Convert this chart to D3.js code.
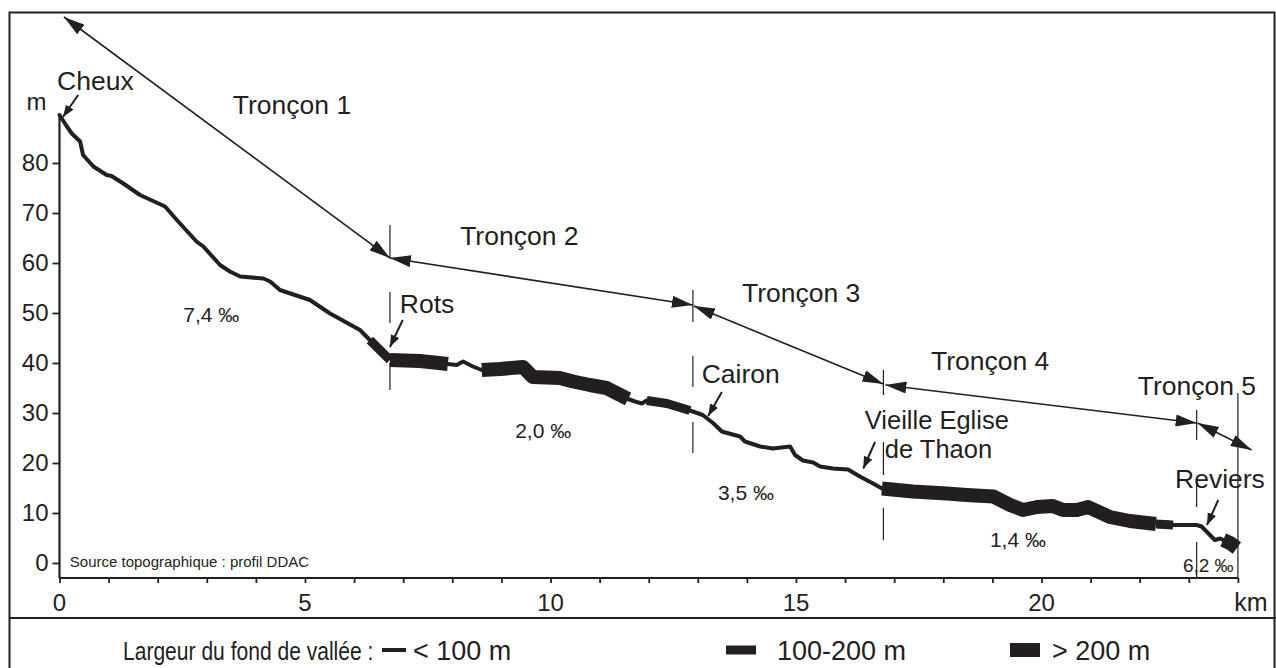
<!DOCTYPE html>
<html><head><meta charset="utf-8">
<script src="https://cdn.jsdelivr.net/npm/d3@7"></script>
<style>
body{margin:0;background:#fff}
svg{display:block}
text{font-family:"Liberation Sans",Arial,Helvetica,sans-serif;fill:#231f20}
</style>
</head><body>
<svg id="chart" width="1276" height="668"></svg>
<script>
// ---------- DATA ----------
const profileKm = [0,0.15,0.25,0.42,0.48,0.69,0.96,1.06,1.30,1.64,1.84,2.15,2.39,2.79,2.93,3.27,3.47,3.68,4.15,4.29,4.49,5.10,5.51,6.12,6.32,
  6.73,7.34,7.91,8.09,8.22,8.42,8.60,8.97,9.44,9.64,10.19,10.46,10.80,11.14,11.42,11.58,11.72,11.86,11.96,12.37,12.84,
  13.10,13.31,13.49,13.86,13.96,14.27,14.53,14.88,14.98,15.14,15.35,15.49,15.75,16.06,16.30,16.57,16.75,
  17.38,18.07,18.48,19.02,19.36,19.62,19.91,20.23,20.44,20.72,20.95,21.39,21.80,22.33,22.68,23.16,23.26,23.43,23.53,23.64,23.70,23.84,23.98];
const profileElev = [89.6,87.3,85.9,84.3,81.6,79.3,77.6,77.4,75.9,73.6,72.7,71.3,68.6,64.3,63.3,59.6,58.3,57.3,56.9,56.3,54.6,52.6,49.9,46.6,44.6,
  40.6,40.4,39.8,39.6,40.3,39.3,38.6,38.8,39.2,37.2,37.0,36.3,35.6,35.0,33.6,32.8,32.3,31.9,32.5,31.9,30.5,
  29.6,28.0,26.3,25.3,24.3,23.3,22.9,23.3,21.6,20.5,20.1,19.3,18.9,18.7,17.3,15.9,14.9,
  14.3,13.9,13.6,13.3,11.6,10.6,11.2,11.4,10.6,10.6,11.2,9.2,8.4,7.8,7.6,7.6,7.3,5.6,4.6,4.9,4.6,4.0,3.0];

// valley-floor width class along the profile
const segStartKm = [0,6.32,6.73,7.91,8.60,11.58,11.96,12.84,16.75,22.33,22.68,23.70];
const segEndKm   = [6.32,6.73,7.91,8.60,11.58,11.96,12.84,16.75,22.33,22.68,23.70,23.98];
const segClass   = ["<100","100-200",">200","<100",">200","<100","100-200","<100",">200","100-200","<100",">200"];

const widthClasses = ["<100","100-200",">200"];
const legendTitle = "Largeur du fond de vallée :";
const legendLabels = ["< 100 m","100-200 m","> 200 m"];

const yTickValues = [0,10,20,30,40,50,60,70,80];
const xMinorTicks = [0,1,2,3,4,5,6,7,8,9,10,11,12,13,14,15,16,17,18,19,20,21,22,23,24];
const xLabelTicks = [0,5,10,15,20];

const tronconNames = ["Tronçon 1","Tronçon 2","Tronçon 3","Tronçon 4","Tronçon 5"];
const tronconBoundKm = [0,6.73,12.9,16.78,23.16,24];
const slopeLabels = ["7,4 ‰","2,0 ‰","3,5 ‰","1,4 ‰","6,2 ‰"];
const placeNames = ["Cheux","Rots","Cairon","Vieille Eglise","de Thaon","Reviers"];

// ---------- LAYOUT ----------
const svg = d3.select("#chart");
const ink = "#231f20";
const x = d3.scaleLinear().domain([0,24]).range([59.5,1237.9]);
const y = d3.scaleLinear().domain([0,80]).range([563,163]);
const strokeW = d3.scaleOrdinal().domain(widthClasses).range([4,9,14]);

// frame
svg.append("rect").attr("x",9.5).attr("y",12.5).attr("width",1265).attr("height",660)
  .attr("fill","none").attr("stroke",ink).attr("stroke-width",2);
svg.append("line").attr("x1",9).attr("x2",1276).attr("y1",618).attr("y2",618)
  .attr("stroke",ink).attr("stroke-width",2);

// markers
const defs = svg.append("defs");
defs.append("marker").attr("id","bigHead").attr("markerUnits","userSpaceOnUse")
  .attr("viewBox","0 0 21 12").attr("markerWidth",21).attr("markerHeight",12)
  .attr("refX",21).attr("refY",6).attr("orient","auto-start-reverse")
  .append("path").attr("d","M0,0L21,6L0,12Z").attr("fill",ink);
defs.append("marker").attr("id","smallHead").attr("markerUnits","userSpaceOnUse")
  .attr("viewBox","0 0 12 9").attr("markerWidth",12).attr("markerHeight",9)
  .attr("refX",12).attr("refY",4.5).attr("orient","auto")
  .append("path").attr("d","M0,0L12,4.5L0,9Z").attr("fill",ink);

// axes
const yBase = -3; // elevation of x-axis line
const xAxis = svg.append("g").attr("transform",`translate(0,${y(yBase)})`)
  .call(d3.axisBottom(x).tickValues(xMinorTicks).tickSize(5).tickFormat(""));
xAxis.select(".domain").remove();
xAxis.selectAll("line").attr("stroke",ink).attr("stroke-width",1.8);
svg.append("line").attr("x1",x(0)).attr("x2",x(24)).attr("y1",y(yBase)).attr("y2",y(yBase))
  .attr("stroke",ink).attr("stroke-width",2.2);
svg.selectAll(".xlab").data(xLabelTicks).join("text").attr("class","xlab")
  .attr("x",d=>x(d)).attr("y",y(yBase)+33).attr("text-anchor","middle")
  .attr("font-size",24).text(d=>d);
svg.append("text").attr("x",x(24)+13).attr("y",y(yBase)+33).attr("text-anchor","middle")
  .attr("font-size",25).text("km");

const yAxis = svg.append("g").attr("transform",`translate(${x(0)},0)`)
  .call(d3.axisLeft(y).tickValues(yTickValues).tickSize(7).tickPadding(4));
yAxis.select(".domain").remove();
yAxis.selectAll("line").attr("stroke",ink).attr("stroke-width",1.8);
yAxis.selectAll("text").attr("font-size",24).attr("font-family","'Liberation Sans',Arial,sans-serif").attr("fill",ink);
svg.append("line").attr("x1",x(0)).attr("x2",x(0)).attr("y1",y(profileElev[0])).attr("y2",y(yBase))
  .attr("stroke",ink).attr("stroke-width",2.2);
svg.append("text").attr("x",x(0)-33).attr("y",y(90.6)).attr("font-size",24).text("m");

// profile
const line = d3.line().x(d=>x(d[0])).y(d=>y(d[1])).curve(d3.curveLinear);
const pts = profileKm.map((k,i)=>[k,profileElev[i]]);
const segs = segStartKm.map((s,i)=>({cls:segClass[i], pts:pts.filter(p=>p[0]>=s-1e-9 && p[0]<=segEndKm[i]+1e-9)}));
svg.append("g").selectAll("path").data(segs.slice().sort((a,b)=>strokeW(a.cls)-strokeW(b.cls))).join("path")
  .attr("d",d=>line(d.pts)).attr("fill","none").attr("stroke",ink)
  .attr("stroke-width",d=>strokeW(d.cls))
  .attr("stroke-linecap",d=>d.cls==="<100"?"round":"butt")
  .attr("stroke-linejoin","round");

// troncon boundary marks
const markSpans = [
  [[67.6,61],[54.2,48],[40,34.6]],
  [[54.6,48.2],[41.4,35.2],[28.2,22]],
  [[38.6,33.6],[24.2,17.6],[11,4.6]],
  [[30.6,24.6],[16.6,11.2],[4.2,-2.8]],
  [[34,-3]]
];
markSpans.forEach((spans,i)=>{
  spans.forEach(s=>{
    svg.append("line").attr("x1",x(tronconBoundKm[i+1])).attr("x2",x(tronconBoundKm[i+1]))
      .attr("y1",y(s[0])).attr("y2",y(s[1])).attr("stroke",ink).attr("stroke-width",1.2);
  });
});

// troncon arrows (km, elevation)
const tronconArrow = [
  [[0.09,109.2],[6.73,61]],
  [[6.73,61],[12.9,51.6]],
  [[12.92,51.4],[16.78,35.8]],
  [[16.82,35.6],[23.16,28]],
  [[23.18,28],[24.28,22.6]]
];
tronconArrow.forEach(a=>{
  svg.append("line").attr("x1",x(a[0][0])).attr("y1",y(a[0][1])).attr("x2",x(a[1][0])).attr("y2",y(a[1][1]))
    .attr("stroke",ink).attr("stroke-width",1.6)
    .attr("marker-start","url(#bigHead)").attr("marker-end","url(#bigHead)");
});
const tronconLabelPos = [[3.53,89.8],[8.16,63.6],[13.9,52.2],[17.75,38.6],[21.96,33.6]];
svg.selectAll(".tl").data(tronconNames).join("text").attr("class","tl")
  .attr("x",(d,i)=>x(tronconLabelPos[i][0])).attr("y",(d,i)=>y(tronconLabelPos[i][1]))
  .attr("font-size",26.5).text(d=>d);

// place names + arrows
const placePos = [[-0.05,94.6],[6.93,50],[13.08,36],[16.4,26.8],[16.81,21.0],[22.72,15]];
const placeSize = [26.5,26.5,26.5,25.5,25.5,26.5];
svg.selectAll(".pl").data(placeNames).join("text").attr("class","pl")
  .attr("x",(d,i)=>x(placePos[i][0])).attr("y",(d,i)=>y(placePos[i][1]))
  .attr("font-size",(d,i)=>placeSize[i]).text(d=>d);
const placeArrow = [
  [[0.38,93.6],[0.07,89.2]],
  [[6.99,48.6],[6.73,43.2]],
  [[13.49,34.2],[13.21,29.4]],
  [[16.61,24.2],[16.37,18.9]],
  [[23.6,12.6],[23.37,7.6]]
];
placeArrow.forEach(a=>{
  svg.append("line").attr("x1",x(a[0][0])).attr("y1",y(a[0][1])).attr("x2",x(a[1][0])).attr("y2",y(a[1][1]))
    .attr("stroke",ink).attr("stroke-width",2).attr("marker-end","url(#smallHead)");
});

// slopes
const slopePos = [[2.52,48.2],[9.28,25],[13.41,12.6],[18.95,3.2],[22.88,-1.8]];
const slopeSize = [21,21,21,21,19];
svg.selectAll(".sl").data(slopeLabels).join("text").attr("class","sl")
  .attr("x",(d,i)=>x(slopePos[i][0])).attr("y",(d,i)=>y(slopePos[i][1]))
  .attr("font-size",(d,i)=>slopeSize[i]).text(d=>d);

// source
svg.append("text").attr("x",x(0.21)).attr("y",y(-0.8)).attr("font-size",15).text("Source topographique : profil DDAC");

// legend
svg.append("text").attr("transform","translate(123,660) scale(0.81,1)").attr("font-size",26).text(legendTitle);
const legX = [382,726,1010];
const legTextX = [413,777,1052];
widthClasses.forEach((c,i)=>{
  svg.append("line").attr("x1",legX[i]).attr("x2",legX[i]+(i===0?24:30)).attr("y1",650).attr("y2",650)
    .attr("stroke",ink).attr("stroke-width",strokeW(c));
  svg.append("text").attr("x",legTextX[i]).attr("y",660).attr("font-size",27).text(legendLabels[i]);
});
</script>
</body></html>
